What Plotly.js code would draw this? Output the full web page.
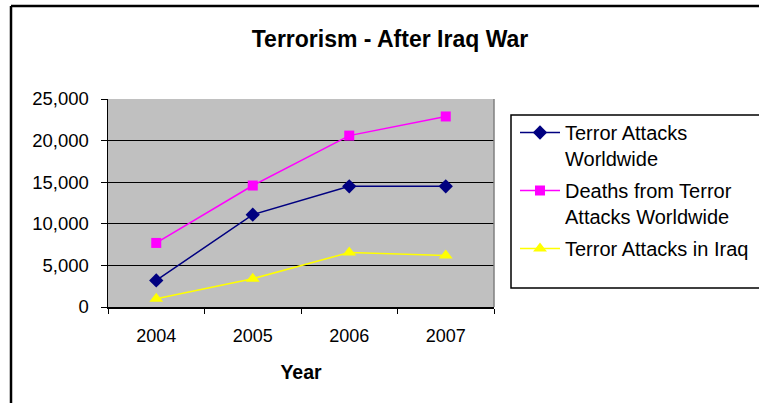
<!DOCTYPE html>
<html>
<head>
<meta charset="utf-8">
<script src="https://cdn.plot.ly/plotly-3.0.1.min.js"></script>
<style>html,body{margin:0;padding:0;background:#fff;}#chart{width:759px;height:403px;}</style>
</head>
<body>
<div id="chart"></div>
<script>
const years = ['2004', '2005', '2006', '2007'];
const terrorAttacksWorldwide = [3200, 11100, 14500, 14500];
const deathsFromTerrorAttacks = [7700, 14600, 20600, 22900];
const terrorAttacksInIraq = [1000, 3400, 6550, 6200];
const seriesNames = ['Terror Attacks<br>Worldwide', 'Deaths from Terror<br>Attacks Worldwide', 'Terror Attacks in Iraq'];
const yTicks = [0, 5000, 10000, 15000, 20000, 25000];

const FONT = 'Liberation Sans, Arial, sans-serif';
const W = 759, H = 403;
const L = 108, R = 265, T = 99, B = 96;
const pw = W - L - R, ph = H - T - B;
const px = x => (x - L) / pw;
const py = y => (H - B - y) / ph;

const traces = [
  {x: years, y: terrorAttacksWorldwide, name: seriesNames[0], legendgroup: 'g1', type: 'scatter', mode: 'lines+markers',
   line: {color: '#000080', width: 1.5}, marker: {symbol: 'diamond', size: 11, color: '#000080'}},
  {x: years, y: deathsFromTerrorAttacks, name: seriesNames[1], legendgroup: 'g2', type: 'scatter', mode: 'lines+markers',
   line: {color: '#FF00FF', width: 1.5}, marker: {symbol: 'square', size: 10, color: '#FF00FF'}},
  {x: years, y: terrorAttacksInIraq, name: seriesNames[2], legendgroup: 'g3', type: 'scatter', mode: 'lines+markers',
   line: {color: '#FFFF00', width: 1.5}, marker: {symbol: 'triangle-up', size: 12, color: '#FFFF00'}}
];

const layout = {
  width: W, height: H,
  margin: {l: L, r: R, t: T, b: B, autoexpand: false},
  paper_bgcolor: '#ffffff',
  plot_bgcolor: '#C0C0C0',
  font: {family: FONT, color: '#000', size: 18},
  title: {text: '<b>Terrorism - After Iraq War</b>', font: {family: FONT, size: 23, color: '#000'},
          x: 390 / W, xref: 'container', xanchor: 'center', y: 1 - 39 / H, yref: 'container', yanchor: 'middle'},
  xaxis: {type: 'category', range: [-0.5, 3.5], tickson: 'boundaries', ticks: 'outside', ticklen: 5,
          tickcolor: '#000', tickwidth: 1, showline: true, linecolor: '#000', linewidth: 1.5,
          showgrid: false, zeroline: false, ticklabelstandoff: 12,
          tickfont: {family: FONT, size: 18, color: '#000'},
          title: {text: '<b>Year</b>', font: {family: FONT, size: 19.5, color: '#000'}, standoff: 20}},
  yaxis: {range: [0, 25000], tickvals: yTicks, tickformat: ',', ticks: 'outside', ticklen: 6,
          tickcolor: '#000', tickwidth: 1, showline: true, linecolor: '#000', linewidth: 1.5,
          showgrid: true, gridcolor: '#000', gridwidth: 1.3, zeroline: false, ticklabelstandoff: 8,
          tickfont: {family: FONT, size: 18.5, color: '#000'}},
  showlegend: true,
  legend: {x: px(515), xanchor: 'left', y: py(113), yanchor: 'top', bgcolor: 'rgba(0,0,0,0)',
           borderwidth: 0, font: {family: FONT, size: 20, color: '#000'}, valign: 'top',
           tracegroupgap: 3, itemwidth: 40},
  shapes: [
    {type: 'line', xref: 'paper', yref: 'paper', x0: 1, x1: 1, y0: 0, y1: 1, line: {color: '#808080', width: 1.5}},
    {type: 'rect', xref: 'paper', yref: 'paper', x0: px(511), x1: px(760), y0: py(288), y1: py(115),
     line: {color: '#000', width: 1.5}},
    {type: 'line', xref: 'paper', yref: 'paper', x0: px(11), x1: px(762), y0: py(6), y1: py(6), line: {color: '#000', width: 2.5}},
    {type: 'line', xref: 'paper', yref: 'paper', x0: px(11), x1: px(11), y0: py(6), y1: py(405), line: {color: '#000', width: 2.5}}
  ]
};

Plotly.newPlot('chart', traces, layout, {displayModeBar: false, staticPlot: true});
</script>
</body>
</html>
